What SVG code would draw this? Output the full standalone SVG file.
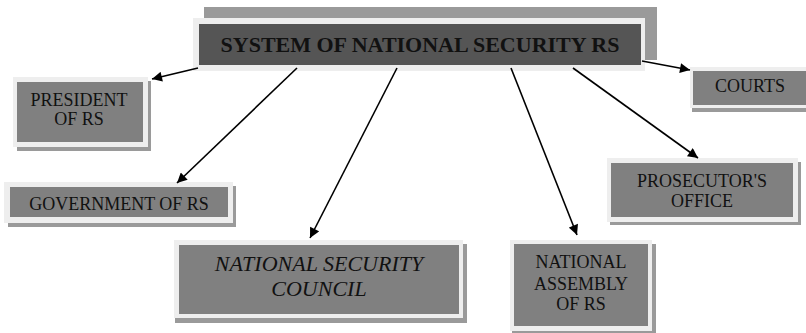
<svg xmlns="http://www.w3.org/2000/svg" width="806" height="333" viewBox="0 0 806 333">
<style>
.frame{fill:#eeeeee}
.shadow{fill:#9a9a9a}
.box{fill:#808080}
.top{fill:#555555}
.c{stroke:#000;stroke-width:1.6;fill:none;marker-end:url(#ah)}
</style>
<defs>
<marker id="ah" viewBox="0 0 10 10" refX="10" refY="5" markerWidth="12" markerHeight="10" markerUnits="userSpaceOnUse" orient="auto">
<path d="M0,0 L10,5 L0,10 z" fill="#000"/>
</marker>
</defs>
<rect width="806" height="333" fill="#fff"/>
<g font-family="Liberation Serif, Times New Roman, serif" font-size="18" fill="#111" text-anchor="middle">
<g id="system">
<rect class="shadow" x="204" y="7" width="453" height="53"/>
<rect class="frame" x="193" y="18" width="452" height="53"/>
<rect class="top" x="199" y="24" width="442" height="41"/>
<text x="420" y="52" font-weight="bold" font-size="22">SYSTEM OF NATIONAL SECURITY RS</text>
</g>
<g id="president">
<rect class="shadow" x="17" y="81" width="134" height="70"/>
<rect class="frame" x="13" y="77" width="135" height="70"/>
<rect class="box" x="17" y="82" width="126" height="60"/>
<text x="79" y="106">PRESIDENT</text>
<text x="79" y="125">OF RS</text>
</g>
<g id="government">
<rect class="shadow" x="8" y="186" width="228" height="41"/>
<rect class="frame" x="4" y="182" width="229" height="41"/>
<rect class="box" x="10" y="187" width="218" height="30"/>
<text x="119" y="210">GOVERNMENT OF RS</text>
</g>
<g id="nsc">
<rect class="shadow" x="175" y="244" width="292" height="79"/>
<rect class="frame" x="174" y="240" width="289" height="78"/>
<rect class="box" x="179" y="245" width="280" height="69"/>
<text x="319" y="271" font-style="italic" font-size="22">NATIONAL SECURITY</text>
<text x="319" y="296" font-style="italic" font-size="22">COUNCIL</text>
</g>
<g id="assembly">
<rect class="shadow" x="512" y="244" width="144" height="92"/>
<rect class="frame" x="510" y="240" width="142" height="91"/>
<rect class="box" x="514" y="244" width="134" height="82"/>
<text x="581" y="268">NATIONAL</text>
<text x="581" y="290">ASSEMBLY</text>
<text x="581" y="310">OF RS</text>
</g>
<g id="prosecutor">
<rect class="shadow" x="610" y="162" width="191" height="63"/>
<rect class="frame" x="607" y="158" width="191" height="64"/>
<rect class="box" x="611" y="163" width="182" height="54"/>
<text x="702" y="187">PROSECUTOR'S</text>
<text x="702" y="207">OFFICE</text>
</g>
<g id="courts">
<rect class="shadow" x="692" y="71" width="120" height="41"/>
<rect class="frame" x="690" y="67" width="120" height="41"/>
<rect class="box" x="693" y="71" width="114" height="34"/>
<text x="750" y="92">COURTS</text>
</g>
</g>
<g id="connectors">
<line class="c" x1="198" y1="68" x2="152" y2="79"/>
<line class="c" x1="297" y1="68" x2="177" y2="183"/>
<line class="c" x1="397" y1="68" x2="310" y2="238"/>
<line class="c" x1="511" y1="68" x2="577" y2="235"/>
<line class="c" x1="573" y1="68" x2="698" y2="158"/>
<line class="c" x1="642" y1="61" x2="690" y2="70"/>
</g>
</svg>
